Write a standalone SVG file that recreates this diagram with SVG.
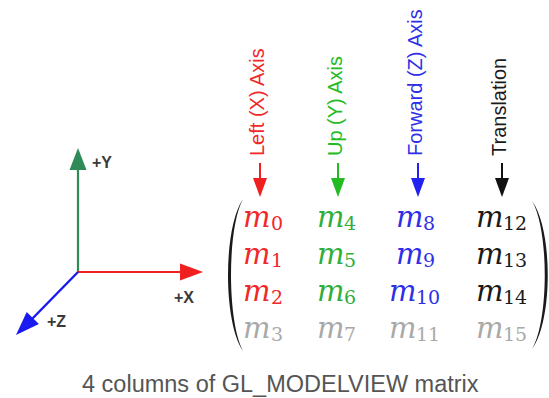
<svg xmlns="http://www.w3.org/2000/svg" width="549" height="398" viewBox="0 0 549 398">
<style>
.lbl{font-family:"Liberation Sans",Arial,sans-serif;font-size:20px}
.ax{font-family:"Liberation Sans",Arial,sans-serif;font-size:16px;font-weight:bold;fill:#3a3a3a}
.m{font-family:"DejaVu Serif",serif;font-style:italic;font-size:29px}
.s{font-family:"DejaVu Serif",serif;font-size:19px}
.red{fill:#f02828}.grn{fill:#2fae3a}.blu{fill:#2f2fe8}.blk{fill:#1a1a1a}.gry{fill:#a9a9a9}
.cap{font-family:"Liberation Sans",Arial,sans-serif;font-size:23.5px;fill:#555}
</style>
<rect width="549" height="398" fill="#fff"/>
<g id="coord-axes">
<line x1="78" y1="272" x2="78" y2="168" stroke="#2e8b57" stroke-width="2.2"/>
<polygon points="78,148 69.5,170 86.5,170" fill="#2e8b57"/>
<line x1="78" y1="272" x2="182" y2="272" stroke="#f02020" stroke-width="2.2"/>
<polygon points="203,272 180,263.5 180,280.5" fill="#f02020"/>
<line x1="78" y1="272" x2="32" y2="319" stroke="#1a1aee" stroke-width="2.4"/>
<polygon points="16,335 38.9,323.9 26.7,311.9" fill="#1a1aee"/>
<text class="ax" x="92" y="168">+Y</text>
<text class="ax" x="174" y="303">+X</text>
<text class="ax" x="47" y="327">+Z</text>
</g>
<g id="label-left"><text class="lbl red" transform="translate(264,156) rotate(-90)">Left (X) Axis</text></g>
<g id="label-up"><text class="lbl" fill="#22bb22" transform="translate(342,156) rotate(-90)">Up (Y) Axis</text></g>
<g id="label-forward"><text class="lbl blu" transform="translate(422,156) rotate(-90)">Forward (Z) Axis</text></g>
<g id="label-translation"><text class="lbl blk" transform="translate(506,156) rotate(-90)">Translation</text></g>
<g id="connectors">
<line x1="260" y1="163" x2="260" y2="180" stroke="#f02020" stroke-width="2"/>
<polygon points="260,197 253,178 267,178" fill="#f02020"/>
<line x1="338" y1="163" x2="338" y2="180" stroke="#22bb22" stroke-width="2"/>
<polygon points="338,197 331,178 345,178" fill="#22bb22"/>
<line x1="418" y1="163" x2="418" y2="180" stroke="#2222ee" stroke-width="2"/>
<polygon points="418,197 411,178 425,178" fill="#2222ee"/>
<line x1="502" y1="163" x2="502" y2="180" stroke="#111" stroke-width="2"/>
<polygon points="502,197 495,178 509,178" fill="#111"/>
</g>
<g id="matrix">
<path d="M243,199 C223,228 223,322 243,351 C227,322 227,228 243,199 Z" fill="#1a1a1a"/>
<path d="M532,201 C553,229 553,321 532,349 C549,321 549,229 532,201 Z" fill="#1a1a1a"/>
<g class="red">
<text class="m" x="243" y="227">m</text><text class="s" x="271" y="230">0</text>
<text class="m" x="243" y="264">m</text><text class="s" x="271" y="267">1</text>
<text class="m" x="243" y="301">m</text><text class="s" x="271" y="304">2</text>
</g>
<g class="grn">
<text class="m" x="317" y="227">m</text><text class="s" x="344" y="230">4</text>
<text class="m" x="317" y="264">m</text><text class="s" x="344" y="267">5</text>
<text class="m" x="317" y="301">m</text><text class="s" x="344" y="304">6</text>
</g>
<g class="blu">
<text class="m" x="396" y="227">m</text><text class="s" x="423" y="230">8</text>
<text class="m" x="396" y="264">m</text><text class="s" x="423" y="267">9</text>
<text class="m" x="389" y="301">m</text><text class="s" x="416" y="304">10</text>
</g>
<g class="blk">
<text class="m" x="476" y="227">m</text><text class="s" x="503" y="230">12</text>
<text class="m" x="476" y="264">m</text><text class="s" x="503" y="267">13</text>
<text class="m" x="476" y="301">m</text><text class="s" x="503" y="304">14</text>
</g>
<g class="gry">
<text class="m" x="243" y="338">m</text><text class="s" x="271" y="341">3</text>
<text class="m" x="317" y="338">m</text><text class="s" x="344" y="341">7</text>
<text class="m" x="389" y="338">m</text><text class="s" x="416" y="341">11</text>
<text class="m" x="476" y="338">m</text><text class="s" x="503" y="341">15</text>
</g>
</g>
<g id="caption"><text class="cap" x="82" y="392">4 columns of GL_MODELVIEW matrix</text></g>
</svg>
